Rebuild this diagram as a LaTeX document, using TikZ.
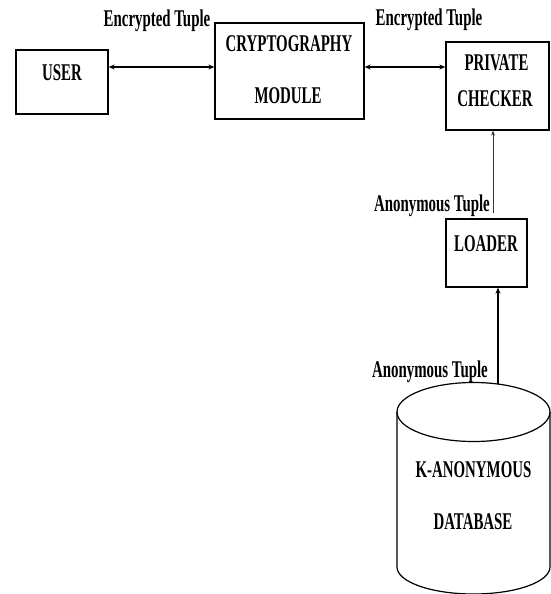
\documentclass[tikz,border=0pt]{standalone}
\usepackage{fontspec}
\setmainfont{Liberation Serif}
\usepackage{graphicx}
\usetikzlibrary{arrows.meta}
\newcommand\squish[1]{\scalebox{0.62}[1]{#1}}
\begin{document}
\begin{tikzpicture}[x=1pt,y=-1pt,
  box/.style={draw, line width=1.3pt, inner sep=0pt},
  txt/.style={inner sep=0pt, font=\fontsize{24}{28}\selectfont\bfseries},
  lbl/.style={inner sep=0pt, anchor=base, font=\fontsize{24}{28}\selectfont\bfseries},
  tip/.style={Stealth[length=6pt,width=5pt]},
  dconn/.style={line width=1.3pt, {Stealth[length=6pt,width=5pt]}-{Stealth[length=6pt,width=5pt]}},
  conn/.style={line width=1.2pt, -{Stealth[length=6pt,width=5pt]}},
  thinconn/.style={line width=0.8pt, draw=black!80, -{Stealth[length=5pt,width=4pt]}},
]
\useasboundingbox (0,0) rectangle (551,594);
\fill[white] (0,0) rectangle (551,594);

% boxes
\node[box, minimum width=92pt, minimum height=64pt] (user) at (62,82) {};
\node[box, minimum width=149pt, minimum height=96pt] (crypto) at (289.5,71) {};
\node[box, minimum width=103pt, minimum height=88pt] (pc) at (497.5,86) {};
\node[box, minimum width=81pt, minimum height=68pt] (loader) at (486.5,253) {};

% box texts
\node[txt] (usertxt) at (62,73) {\squish{USER}};
\node[txt] (cryptotxt1) at (289,44) {\squish{CRYPTOGRAPHY}};
\node[txt] (cryptotxt2) at (288,96) {\squish{MODULE}};
\node[txt] (pctxt1) at (496.5,63) {\squish{PRIVATE}};
\node[txt] (pctxt2) at (495,99) {\squish{CHECKER}};
\node[txt] (loadertxt) at (486,244) {\squish{LOADER}};

% database cylinder
\draw[line width=1.2pt] (473.5,412) ellipse [x radius=76.5pt, y radius=29.5pt];
\draw[line width=1.2pt] (397,412) -- (397,567)
  .. controls (397,581.9) and (431.25,594) .. (473.5,594)
  .. controls (515.75,594) and (550,581.9) .. (550,567) -- (550,412);
\node[txt] (dbtxt1) at (473.5,470) {\squish{K-ANONYMOUS}};
\node[txt] (dbtxt2) at (473,522) {\squish{DATABASE}};

% labels
\node[lbl] (lab1) at (157,27) {\squish{Encrypted Tuple}};
\node[lbl] (lab2) at (429,26) {\squish{Encrypted Tuple}};
\node[lbl] (lab3) at (432,211) {\squish{Anonymous Tuple}};
\node[lbl] (lab4) at (430,377) {\squish{Anonymous Tuple}};

% connectors
\draw[dconn] ([yshift=15pt]user.east) -- ([yshift=15pt]user.east -| crypto.west);
\draw[dconn] ([yshift=4pt]crypto.east) -- ([yshift=4pt]crypto.east -| pc.west);
\coordinate (lfree) at (493,213);
\draw[thinconn] (lfree) -- (lfree |- pc.south);
\coordinate (dbtop) at (498,384);
\draw[conn] (dbtop) -- (dbtop |- loader.south);
\end{tikzpicture}
\end{document}
